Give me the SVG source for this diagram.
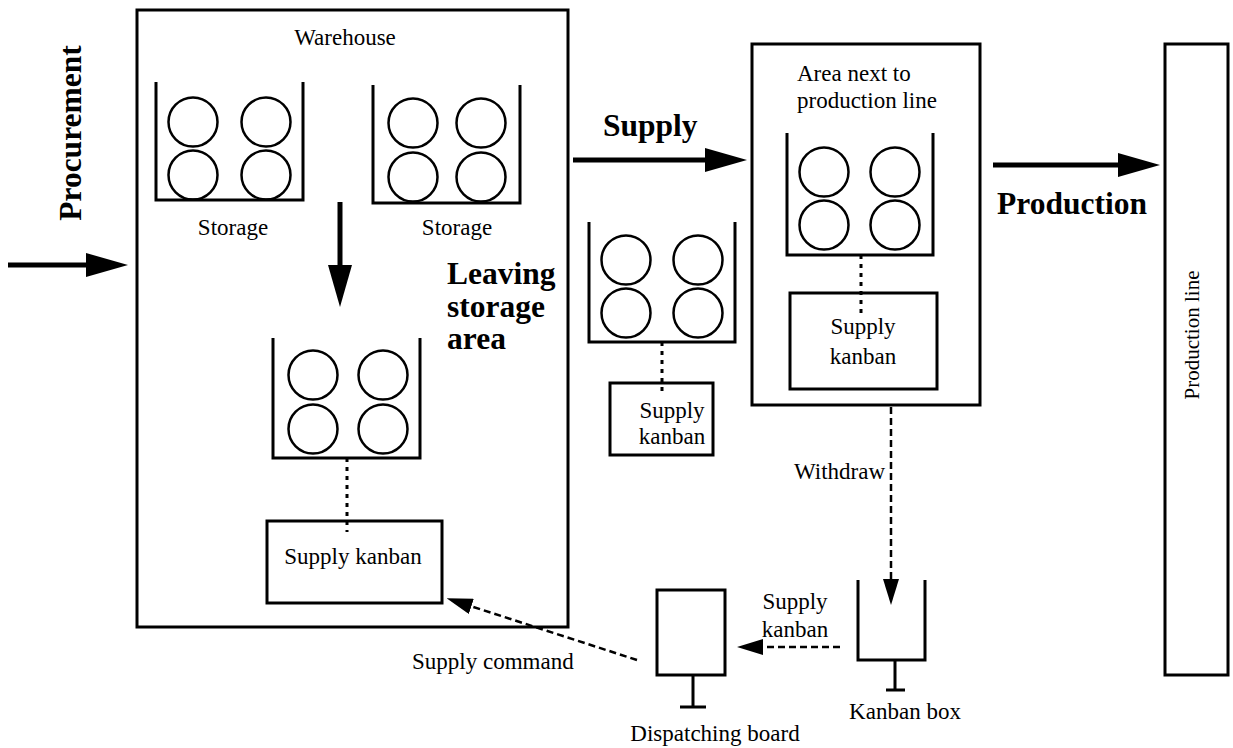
<svg xmlns="http://www.w3.org/2000/svg" width="1233" height="748" viewBox="0 0 1233 748">
<defs>
<style>
.box{fill:none;stroke:#000;stroke-width:3}
.bin{fill:none;stroke:#000;stroke-width:3}
.ball{fill:none;stroke:#000;stroke-width:2.5}
.dot{fill:none;stroke:#000;stroke-width:3;stroke-dasharray:4 5}
.dash{fill:none;stroke:#000;stroke-width:2.5;stroke-dasharray:7 4}
.thick{fill:none;stroke:#000;stroke-width:5}
.t{font-family:"Liberation Serif","Times New Roman",serif;font-size:23px;fill:#000}
.b{font-family:"Liberation Serif","Times New Roman",serif;font-size:31.5px;font-weight:bold;fill:#000}
.m{text-anchor:middle}
</style>
<marker id="big" viewBox="0 0 42 24" refX="22" refY="12" markerWidth="42" markerHeight="24" markerUnits="userSpaceOnUse" orient="auto">
<path d="M0,0 L42,12 L0,24 z" fill="#000"/>
</marker>
<marker id="small" viewBox="0 0 26 16" refX="14" refY="8" markerWidth="26" markerHeight="16" markerUnits="userSpaceOnUse" orient="auto">
<path d="M0,0 L26,8 L0,16 z" fill="#000"/>
</marker>
</defs>
<rect width="1233" height="748" fill="#fff"/>

<g id="procurement-label">
<text class="b m" transform="translate(81,133) rotate(-90)">Procurement</text>
</g>

<g id="warehouse">
<rect class="box" x="137" y="10" width="431" height="617"/>
<text class="t m" x="345" y="45">Warehouse</text>
</g>

<g id="storage1">
<path class="bin" d="M156,82 V200 H303 V82"/>
<circle class="ball" cx="193" cy="122" r="24.5"/>
<circle class="ball" cx="266" cy="122" r="24.5"/>
<circle class="ball" cx="193" cy="175" r="24.5"/>
<circle class="ball" cx="266" cy="175" r="24.5"/>
<text class="t m" x="233" y="235">Storage</text>
</g>

<g id="storage2">
<path class="bin" d="M373,85 V203 H520 V85"/>
<circle class="ball" cx="413" cy="123" r="24.5"/>
<circle class="ball" cx="481" cy="123" r="24.5"/>
<circle class="ball" cx="413" cy="177" r="24.5"/>
<circle class="ball" cx="481" cy="177" r="24.5"/>
<text class="t m" x="457" y="235">Storage</text>
</g>

<g id="leaving-label">
<text class="b" x="447" y="284">Leaving</text>
<text class="b" x="447" y="317">storage</text>
<text class="b" x="447" y="349">area</text>
</g>

<g id="leaving-bin">
<path class="bin" d="M273,338 V458 H420 V338"/>
<circle class="ball" cx="313" cy="375" r="24.5"/>
<circle class="ball" cx="383" cy="375" r="24.5"/>
<circle class="ball" cx="313" cy="429" r="24.5"/>
<circle class="ball" cx="383" cy="429" r="24.5"/>
</g>

<g id="warehouse-kanban">
<rect class="box" x="267" y="521" width="175" height="82"/>
<text class="t m" x="353" y="564">Supply kanban</text>
</g>

<g id="supply-label">
<text class="b" x="603" y="136">Supply</text>
</g>

<g id="mid-bin">
<path class="bin" d="M589,222 V342 H735 V222"/>
<circle class="ball" cx="626" cy="260" r="24.5"/>
<circle class="ball" cx="698" cy="260" r="24.5"/>
<circle class="ball" cx="626" cy="313" r="24.5"/>
<circle class="ball" cx="698" cy="313" r="24.5"/>
</g>

<g id="mid-kanban">
<rect class="box" x="610" y="383" width="103" height="72"/>
<text class="t m" x="672" y="418">Supply</text>
<text class="t m" x="672" y="444">kanban</text>
</g>

<g id="line-area">
<rect class="box" x="752" y="44" width="228" height="361"/>
<text class="t" x="797" y="81">Area next to</text>
<text class="t" x="797" y="108">production line</text>
<path class="bin" d="M787,133 V255 H933 V133"/>
<circle class="ball" cx="824" cy="172" r="24.5"/>
<circle class="ball" cx="895" cy="172" r="24.5"/>
<circle class="ball" cx="824" cy="225" r="24.5"/>
<circle class="ball" cx="895" cy="225" r="24.5"/>
</g>

<g id="area-kanban">
<rect class="box" x="790" y="293" width="147" height="96"/>
<text class="t m" x="863" y="334">Supply</text>
<text class="t m" x="863" y="364">kanban</text>
</g>

<g id="production-label">
<text class="b" x="997" y="214">Production</text>
</g>

<g id="production-line">
<rect class="box" x="1165" y="44" width="63" height="631"/>
<text class="t m" transform="translate(1199,335) rotate(-90)" style="font-size:21px">Production line</text>
</g>

<g id="kanban-box">
<path class="bin" d="M858,580 V660 H925 V580"/>
<path class="bin" d="M895,660 V690 M886,690 H905"/>
<text class="t m" x="905" y="719">Kanban box</text>
</g>

<g id="dispatching-board">
<rect class="box" x="657" y="590" width="68" height="85"/>
<path class="bin" d="M693,675 V707 M680,707 H706"/>
<text class="t m" x="715" y="741">Dispatching board</text>
</g>

<g id="connectors">
<line class="thick" x1="8" y1="265" x2="108" y2="265" marker-end="url(#big)"/>
<line class="thick" x1="340" y1="202" x2="340" y2="287" marker-end="url(#big)"/>
<line class="thick" x1="573" y1="160" x2="727" y2="160" marker-end="url(#big)"/>
<line class="thick" x1="993" y1="165" x2="1140" y2="165" marker-end="url(#big)"/>
<line class="dot" x1="347" y1="458" x2="347" y2="532"/>
<line class="dot" x1="662" y1="342" x2="662" y2="395"/>
<line class="dot" x1="861" y1="255" x2="861" y2="315"/>
<line class="dash" x1="891" y1="407" x2="891" y2="593" marker-end="url(#small)"/>
<line class="dash" x1="840" y1="647" x2="749" y2="647" marker-end="url(#small)"/>
<line class="dash" x1="637" y1="660" x2="458" y2="602" marker-end="url(#small)"/>
<text class="t" x="885" y="479" text-anchor="end">Withdraw</text>
<text class="t" x="412" y="669">Supply command</text>
<text class="t m" x="795" y="609">Supply</text>
<text class="t m" x="795" y="637">kanban</text>
</g>
</svg>
